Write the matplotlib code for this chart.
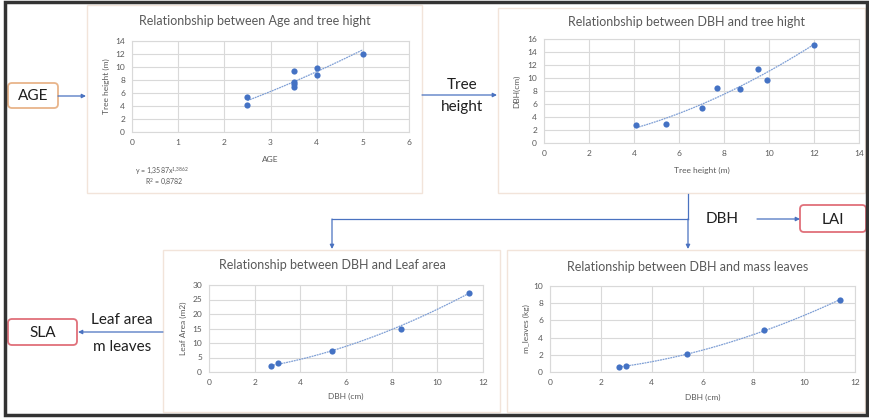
import matplotlib
matplotlib.use("Agg")
import matplotlib.pyplot as plt
import numpy as np
from matplotlib.patches import Rectangle, FancyBboxPatch

W, H = 869, 418

# age vs tree height
age = [2.5, 2.5, 3.5, 3.5, 3.5, 3.5, 4.0, 4.0, 5.0]
height_by_age = [4.1, 5.4, 6.9, 7.4, 7.7, 9.4, 8.7, 9.9, 12.0]

# tree height vs DBH
height = [4.1, 5.4, 7.0, 7.7, 8.7, 9.5, 9.9, 12.0]
dbh_by_height = [2.7, 3.0, 5.4, 8.4, 8.3, 11.4, 9.7, 15.1]

# DBH vs leaf area / leaf mass
dbh = [2.7, 3.0, 5.4, 8.4, 11.4]
leaf_area = [2.0, 3.0, 7.4, 15.0, 27.2]
leaf_mass = [0.55, 0.75, 2.05, 4.85, 8.4]

# power trendlines y = a * x^b and their R^2
fit_age = (1.3587, 1.3862, "0,8782")
fit_height = (0.2031, 1.7358, "0,9517")
fit_area = (0.3877, 1.7466, "0,9977")
fit_mass = (0.0902, 1.8634, "0,9998")

FONT = "Lato"
TXT = "#595959"
GRID = "#d9d9d9"
BLUE = "#4472c4"
TREND = "#7f9fd5"
ARROW = "#4a72c0"
DARK = "#1f1f1f"

plt.rcParams["font.family"] = [FONT, "DejaVu Sans"]
plt.rcParams["mathtext.fontset"] = "custom"
plt.rcParams["mathtext.rm"] = FONT

fig = plt.figure(figsize=(W / 100, H / 100), dpi=100)
fig.patch.set_facecolor("white")

ov = fig.add_axes([0, 0, 1, 1])
ov.set_xlim(0, W)
ov.set_ylim(H, 0)
ov.axis("off")


def rect(x0, y0, x1, y1):
    return [x0 / W, 1 - y1 / H, (x1 - x0) / W, (y1 - y0) / H]


def fmt_coef(v):
    return f"{v:.4f}".replace(".", ",")


def chart(box, area, xs, ys, fit, xmax, xstep, ymax, ystep,
          title, title_pos, xlabel, xlabel_y, ylabel, ylabel_x, eq_pos):
    ov.add_patch(Rectangle((box[0], box[1]), box[2] - box[0], box[3] - box[1],
                           facecolor="white", edgecolor="#f2e4da", lw=1))
    ax = fig.add_axes(rect(*area))
    ax.set_xlim(0, xmax)
    ax.set_ylim(0, ymax)
    ax.set_xticks(np.arange(0, xmax + 0.01, xstep))
    ax.set_yticks(np.arange(0, ymax + 0.01, ystep))
    ax.grid(True, color=GRID, lw=0.8)
    ax.set_axisbelow(True)
    for s in ax.spines.values():
        s.set_color(GRID)
        s.set_linewidth(0.8)
    ax.tick_params(length=0, labelsize=6, colors=TXT, pad=5)

    a, b, r2 = fit
    tx = np.linspace(min(xs), max(xs), 100)
    ax.plot(tx, a * tx ** b, color=TREND, lw=0.9, ls=(0, (1.5, 0.6)), zorder=2)
    ax.scatter(xs, ys, s=20, color=BLUE, zorder=3, linewidths=0)

    ov.text(title_pos[0], title_pos[1], title, ha="center", va="center",
            fontsize=9, color=TXT)
    cx = (area[0] + area[2]) / 2
    ov.text(cx, xlabel_y, xlabel, ha="center", va="center", fontsize=6, color=TXT)
    cy = (area[1] + area[3]) / 2
    ov.text(ylabel_x, cy, ylabel, ha="center", va="center", rotation=90,
            fontsize=6, color=TXT)
    expo = fmt_coef(b).replace(",", "{,}")
    ov.text(eq_pos[0], eq_pos[1], f"y = {fmt_coef(a)}x$^{{{expo}}}$",
            ha="center", va="center", fontsize=5, color=TXT)
    ov.text(eq_pos[0] + 2, eq_pos[1] + 11, f"R$^2$ = {r2}",
            ha="center", va="center", fontsize=5, color=TXT)
    return ax


chart((87, 5, 422, 193), (132, 41, 409, 132), age, height_by_age, fit_age,
      6, 1, 14, 2, "Relationbship between Age and tree hight", (255, 21),
      "AGE", 159, "Tree height (m)", 106, (162, 171))

chart((498, 8, 865, 193), (544, 39, 859, 143), height, dbh_by_height, fit_height,
      14, 2, 16, 2, "Relationbship between DBH and tree hight", (687, 22),
      "Tree height (m)", 170, "DBH(cm)", 517, (570, 63))

chart((163, 250, 500, 412), (209, 285, 483, 372), dbh, leaf_area, fit_area,
      12, 2, 30, 5, "Relationship between DBH and Leaf area", (332, 265),
      "DBH (cm)", 396, "Leaf Area (m2)", 183, (323, 303))

chart((507, 250, 865, 412), (550, 286, 855, 372), dbh, leaf_mass, fit_mass,
      12, 2, 10, 2, "Relationship between DBH and mass leaves", (688, 267),
      "DBH (cm)", 397, "m_leaves (kg)", 526, (683, 303))

# outer frame
ov.add_patch(Rectangle((5, 2), 862, 413, facecolor="none", edgecolor="#333333",
                       lw=2.5, zorder=10))


def arrow(x0, y0, x1, y1):
    ov.annotate("", xy=(x1, y1), xytext=(x0, y0),
                arrowprops=dict(arrowstyle="-|>", color=ARROW, lw=0.9,
                                mutation_scale=6, shrinkA=0, shrinkB=0))


def node(x0, y0, x1, y1, label, edge):
    ov.add_patch(FancyBboxPatch((x0, y0), x1 - x0, y1 - y0,
                                boxstyle="round,pad=0,rounding_size=4",
                                facecolor="white", edgecolor=edge, lw=1.3))
    ov.text((x0 + x1) / 2, (y0 + y1) / 2 + 1, label, ha="center", va="center",
            fontsize=11, color=DARK)


node(8, 83, 58, 108, "AGE", "#e8b48a")
arrow(58, 96, 86, 96)

arrow(422, 95, 497, 95)
ov.text(462, 85, "Tree", ha="center", va="center", fontsize=11, color=DARK)
ov.text(462, 107, "height", ha="center", va="center", fontsize=11, color=DARK)

# DBH branches down to the two lower charts
ov.plot([688, 688], [194, 219], color=ARROW, lw=0.9)
ov.plot([332, 688], [219, 219], color=ARROW, lw=0.9)
arrow(688, 219, 688, 249)
arrow(332, 219, 332, 249)

ov.text(722, 219, "DBH", ha="center", va="center", fontsize=11, color=DARK)
arrow(757, 219, 800, 219)
node(800, 205, 866, 232, "LAI", "#e0707a")

arrow(163, 332, 78, 332)
node(8, 319, 77, 345, "SLA", "#e0707a")
ov.text(122, 320, "Leaf area", ha="center", va="center", fontsize=11, color=DARK)
ov.text(122, 347, "m leaves", ha="center", va="center", fontsize=11, color=DARK)

fig.savefig("out.png", dpi=100)
